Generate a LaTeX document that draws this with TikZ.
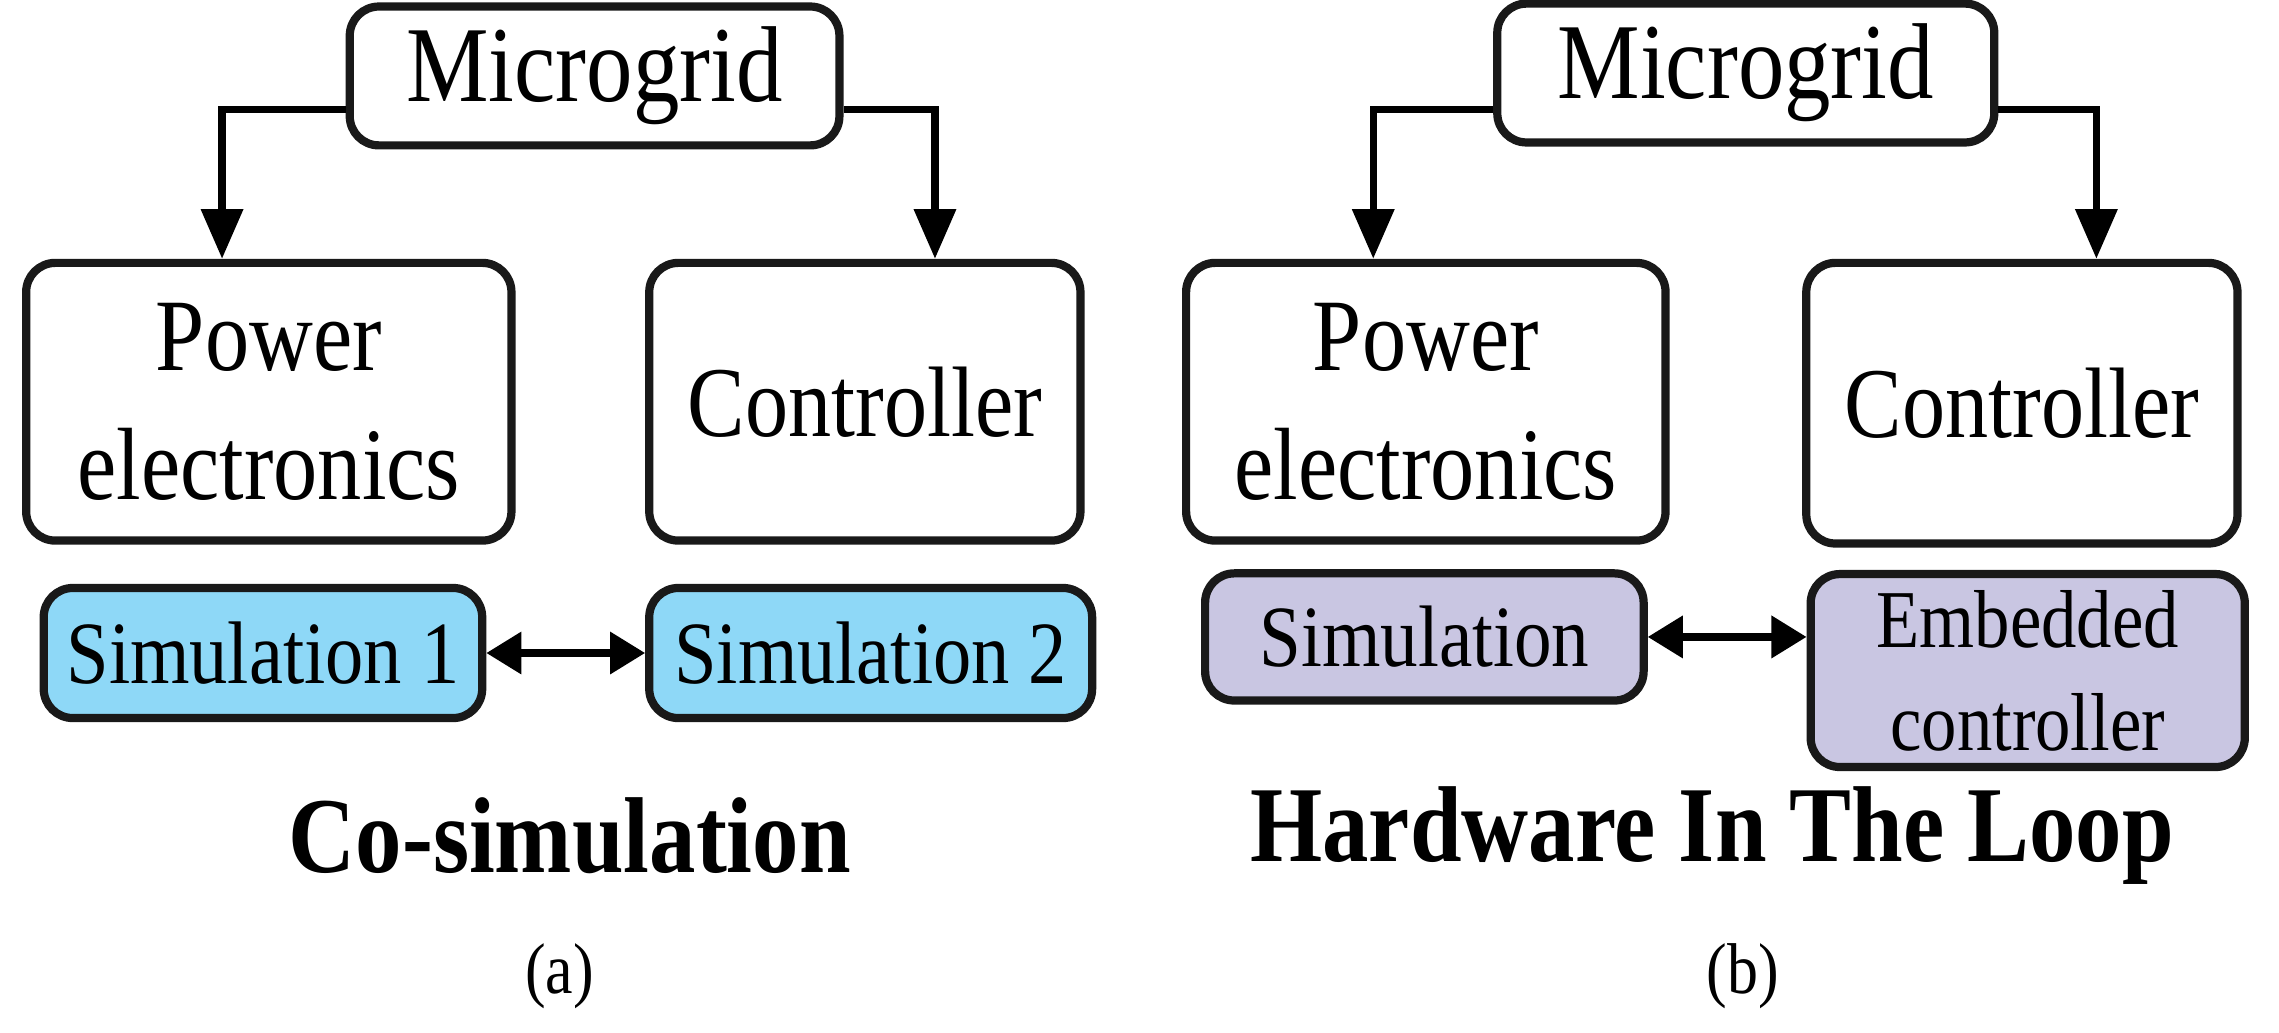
\documentclass[tikz,border=0pt]{standalone}
\usepackage{fontspec}
\setmainfont{Liberation Serif}[FakeStretch=0.86]
\usetikzlibrary{arrows.meta}
\definecolor{simblue}{HTML}{8ED8F7}
\definecolor{simpurple}{HTML}{C9C6E2}
\begin{document}
\begin{tikzpicture}[x=0.01cm,y=-0.01cm,
  box/.style={draw=black!90,line width=1.6pt,rounded corners=0.2cm,align=center,inner sep=0pt},
  arr/.style={line width=1.4pt,-{Triangle[length=0.34cm,width=0.28cm]}},
  darr/.style={line width=1.4pt,{Triangle[length=0.24cm,width=0.28cm]}-{Triangle[length=0.24cm,width=0.28cm]}}]
\useasboundingbox (0,0) rectangle (1560,707);
% panel a
\node[box,minimum width=3.35cm,minimum height=0.95cm,font=\fontsize{21}{23}\selectfont] (m1) at (407,52) {Microgrid};
\node[box,minimum width=3.32cm,minimum height=1.9cm,font=\fontsize{20}{25}\selectfont] (p1) at (184,275) {Power\\electronics};
\node[box,minimum width=2.95cm,minimum height=1.9cm,font=\fontsize{19.5}{24}\selectfont] (c1) at (592,275) {Controller};
\node[box,fill=simblue,minimum width=3.0cm,minimum height=0.89cm,font=\fontsize{17.3}{20}\selectfont] (s1) at (180,447) {Simulation 1};
\node[box,fill=simblue,minimum width=3.03cm,minimum height=0.89cm,font=\fontsize{17.3}{20}\selectfont] (s2) at (596,447) {Simulation 2};
\coordinate (l1) at (152,75);
\coordinate (r1) at (640,75);
\draw[arr] (m1.west|-l1) -- (l1) -- (l1|-p1.north);
\draw[arr] (m1.east|-r1) -- (r1) -- (r1|-c1.north);
\draw[darr] (s1.east) -- (s2.west);
\node[font=\bfseries\fontsize{21}{24}\selectfont] (t1) at (390,572) {Co-simulation};
\node[font=\fontsize{14}{16}\selectfont] (a) at (383,668) {(a)};
% panel b
\node[box,minimum width=3.4cm,minimum height=0.95cm,font=\fontsize{21}{23}\selectfont] (m2) at (1195,50) {Microgrid};
\node[box,minimum width=3.28cm,minimum height=1.9cm,font=\fontsize{20}{25}\selectfont] (p2) at (976,275) {Power\\electronics};
\node[box,minimum width=2.95cm,minimum height=1.92cm,font=\fontsize{19.5}{24}\selectfont] (c2) at (1384,276) {Controller};
\node[box,fill=simpurple,minimum width=3.0cm,minimum height=0.87cm,font=\fontsize{17}{20}\selectfont] (s3) at (975,436) {Simulation};
\node[box,fill=simpurple,minimum width=2.97cm,minimum height=1.32cm,font=\fontsize{16}{20}\selectfont] (s4) at (1388,459) {Embedded\\controller};
\coordinate (l2) at (940,75);
\coordinate (r2) at (1435,75);
\draw[arr] (m2.west|-l2) -- (l2) -- (l2|-p2.north);
\draw[arr] (m2.east|-r2) -- (r2) -- (r2|-c2.north);
\draw[darr] (s3.east) -- (s3.east-|s4.west);
\node[font=\bfseries\fontsize{21}{24}\selectfont] (t2) at (1172,572) {Hardware In The Loop};
\node[font=\fontsize{14}{16}\selectfont] (b) at (1193,668) {(b)};
\end{tikzpicture}
\end{document}
